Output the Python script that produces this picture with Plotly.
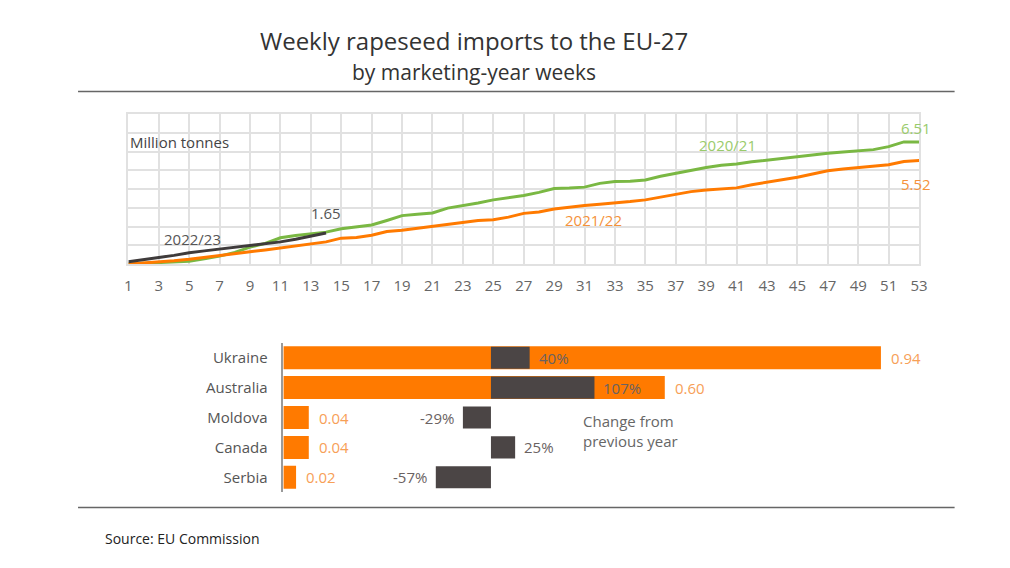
import plotly.graph_objects as go

W, H = 1010, 568

# ---------------- data ----------------
weeks = list(range(1, 54))
y2020_21 = [0.00, 0.03, 0.07, 0.11, 0.15, 0.28, 0.42, 0.62, 0.90, 1.10,
            1.40, 1.52, 1.62, 1.70, 1.88, 2.00, 2.08, 2.32, 2.58, 2.65,
            2.72, 2.98, 3.10, 3.25, 3.42, 3.52, 3.65, 3.82, 4.03, 4.05,
            4.10, 4.30, 4.40, 4.42, 4.48, 4.68, 4.85, 5.02, 5.15, 5.27,
            5.33, 5.45, 5.54, 5.65, 5.73, 5.84, 5.91, 5.97, 6.03, 6.10,
            6.26, 6.51, 6.51]
y2021_22 = [0.00, 0.05, 0.09, 0.17, 0.25, 0.36, 0.47, 0.56, 0.65, 0.75,
            0.86, 0.98, 1.10, 1.18, 1.38, 1.42, 1.53, 1.73, 1.80, 1.90,
            2.00, 2.12, 2.23, 2.32, 2.36, 2.50, 2.70, 2.77, 2.93, 3.04,
            3.12, 3.19, 3.25, 3.33, 3.42, 3.56, 3.72, 3.86, 3.95, 4.00,
            4.06, 4.23, 4.35, 4.50, 4.63, 4.80, 4.97, 5.07, 5.15, 5.22,
            5.29, 5.47, 5.52]
weeks_2022_23 = list(range(1, 15))
y2022_23 = [0.12, 0.22, 0.35, 0.46, 0.60, 0.70, 0.79, 0.88, 1.00, 1.09,
            1.18, 1.32, 1.48, 1.65]
x_tick_vals = list(range(1, 54, 2))

countries = ["Ukraine", "Australia", "Moldova", "Canada", "Serbia"]
imports = [0.94, 0.60, 0.04, 0.04, 0.02]
import_labels = ["0.94", "0.60", "0.04", "0.04", "0.02"]
change_pct = [40, 107, -29, 25, -57]

# ---------------- style ----------------
GREEN = "#7ab843"
ORANGE = "#ff7a00"
DARK = "#3f3b3b"
BARDARK = "#4b4545"
GRID = "#e1e1e1"
FONT = "Open Sans"


def px_x(p):
    return p / W


def px_y(p):
    return 1 - p / H


fig = go.Figure()

# line chart
fig.add_trace(go.Scatter(x=weeks, y=y2020_21, mode="lines",
                         line=dict(color=GREEN, width=3), xaxis="x", yaxis="y",
                         hoverinfo="skip", showlegend=False))
fig.add_trace(go.Scatter(x=weeks, y=y2021_22, mode="lines",
                         line=dict(color=ORANGE, width=3), xaxis="x", yaxis="y",
                         hoverinfo="skip", showlegend=False))
fig.add_trace(go.Scatter(x=weeks_2022_23, y=y2022_23, mode="lines",
                         line=dict(color=DARK, width=3), xaxis="x", yaxis="y",
                         hoverinfo="skip", showlegend=False))

# bar chart: imports (orange)
fig.add_trace(go.Bar(y=countries, x=imports, orientation="h",
                     marker=dict(color=ORANGE, line=dict(width=0)),
                     width=0.77, xaxis="x2", yaxis="y2",
                     hoverinfo="skip", showlegend=False))
# bar chart: change from previous year (dark)
fig.add_trace(go.Bar(y=countries, x=change_pct, orientation="h",
                     marker=dict(color=BARDARK, line=dict(width=0)),
                     width=0.74, xaxis="x3", yaxis="y2",
                     hoverinfo="skip", showlegend=False))

annotations = []
# title
annotations.append(dict(text="Weekly rapeseed imports to the EU-27", xref="paper", yref="paper",
                        x=px_x(476), y=px_y(41), xanchor="center", yanchor="middle",
                        showarrow=False, font=dict(family=FONT, size=24, color="#333333")))
annotations.append(dict(text="by marketing-year weeks", xref="paper", yref="paper",
                        x=px_x(476), y=px_y(72), xanchor="center", yanchor="middle",
                        showarrow=False, font=dict(family=FONT, size=21, color="#333333")))
# source
annotations.append(dict(text="Source: EU Commission", xref="paper", yref="paper",
                        x=px_x(100), y=px_y(538), xanchor="left", yanchor="middle",
                        showarrow=False, font=dict(family=FONT, size=14, color="#222222")))

# line chart labels
annotations.append(dict(text="Million tonnes", xref="x", yref="y", x=1, y=6.5,
                        xanchor="left", yanchor="middle", showarrow=False,
                        font=dict(family=FONT, size=15, color="#444444")))
annotations.append(dict(text="1.65", xref="x", yref="y", x=weeks_2022_23[-1], y=y2022_23[-1],
                        xanchor="center", yanchor="middle", yshift=20, showarrow=False,
                        font=dict(family=FONT, size=15, color="#555555")))
annotations.append(dict(text="2022/23", xref="x", yref="y", x=5.2, y=1.32,
                        xanchor="center", yanchor="middle", showarrow=False,
                        font=dict(family=FONT, size=15, color="#555555")))
annotations.append(dict(text="2021/22", xref="x", yref="y", x=31.6, y=2.33,
                        xanchor="center", yanchor="middle", showarrow=False,
                        font=dict(family=FONT, size=15, color="#f5923a")))
annotations.append(dict(text="2020/21", xref="x", yref="y", x=40.4, y=6.35,
                        xanchor="center", yanchor="middle", showarrow=False,
                        font=dict(family=FONT, size=15, color="#9acb6b")))
annotations.append(dict(text="6.51", xref="x", yref="y", x=weeks[-1], y=y2020_21[-1],
                        xanchor="center", yanchor="middle", yshift=14, xshift=-3, showarrow=False,
                        font=dict(family=FONT, size=15, color="#9acb6b")))
annotations.append(dict(text="5.52", xref="x", yref="y", x=weeks[-1], y=y2021_22[-1],
                        xanchor="center", yanchor="middle", yshift=-23, xshift=-3, showarrow=False,
                        font=dict(family=FONT, size=15, color="#f5923a")))

# bar value labels
for c, v, lab in zip(countries, imports, import_labels):
    annotations.append(dict(text=lab, xref="x2", yref="y2", x=v, y=c,
                            xanchor="left", yanchor="middle", xshift=8, showarrow=False,
                            font=dict(family=FONT, size=15, color="#f7a057")))
for c, v in zip(countries, change_pct):
    annotations.append(dict(text=f"{v}%", xref="x3", yref="y2", x=v, y=c,
                            xanchor="left" if v >= 0 else "right", yanchor="middle",
                            xshift=7 if v >= 0 else -7, showarrow=False,
                            font=dict(family=FONT, size=15, color="#6a6262")))
annotations.append(dict(text="Change from<br>previous year", xref="paper", yref="paper",
                        x=px_x(585), y=px_y(431), xanchor="left", yanchor="middle", align="left",
                        showarrow=False, font=dict(family=FONT, size=15, color="#666666")))

shapes = [
    dict(type="line", xref="paper", yref="paper", x0=px_x(75), x1=px_x(963),
         y0=px_y(91.5), y1=px_y(91.5), line=dict(color="#666666", width=1.6)),
    dict(type="line", xref="paper", yref="paper", x0=px_x(75), x1=px_x(963),
         y0=px_y(507.5), y1=px_y(507.5), line=dict(color="#666666", width=1.6)),
]

# bar x-axis scales: zero at pixel 283, 644 px per million tonnes; change zero at 493.3, 0.98 px per %
bx0, bx1 = 283, 960
imp_range = [0, (bx1 - bx0) / 644]
chg_range = [(bx0 - 493.3) / 0.98, (bx1 - 493.3) / 0.98]

fig.update_layout(
    width=W, height=H,
    margin=dict(l=0, r=0, t=0, b=0),
    paper_bgcolor="white", plot_bgcolor="white",
    font=dict(family=FONT, color="#555555"),
    barmode="overlay",
    xaxis=dict(domain=[px_x(126), px_x(927)], range=[1, 53], anchor="y",
               tickmode="array", tickvals=x_tick_vals,
               showgrid=True, gridcolor=GRID, gridwidth=1.6,
               showline=True, linecolor=GRID, linewidth=1.6, mirror=True,
               zeroline=False, ticks="", ticklabelstandoff=7,
               tickfont=dict(family=FONT, size=15, color="#666666")),
    yaxis=dict(domain=[px_y(264), px_y(114)], range=[0, 8], anchor="x",
               dtick=1, showgrid=True, gridcolor=GRID, gridwidth=1.6,
               showline=True, linecolor=GRID, linewidth=1.6, mirror=True,
               zeroline=False, showticklabels=False, ticks=""),
    xaxis2=dict(domain=[px_x(bx0), px_x(bx1)], range=imp_range, anchor="y2",
                visible=False, showgrid=False, zeroline=False),
    xaxis3=dict(domain=[px_x(bx0), px_x(bx1)], range=chg_range, anchor="y2",
                overlaying="x2", visible=False, showgrid=False, zeroline=False),
    yaxis2=dict(domain=[px_y(492.2), px_y(342.8)], anchor="x2",
                type="category", categoryorder="array", categoryarray=countries,
                autorange="reversed", showgrid=False, zeroline=False,
                showline=True, linecolor="#9a9a9a", linewidth=1.5,
                ticks="", ticklabelstandoff=11,
                tickfont=dict(family=FONT, size=15, color="#555555")),
    annotations=annotations,
    shapes=shapes,
)

fig.write_html("out.html")
